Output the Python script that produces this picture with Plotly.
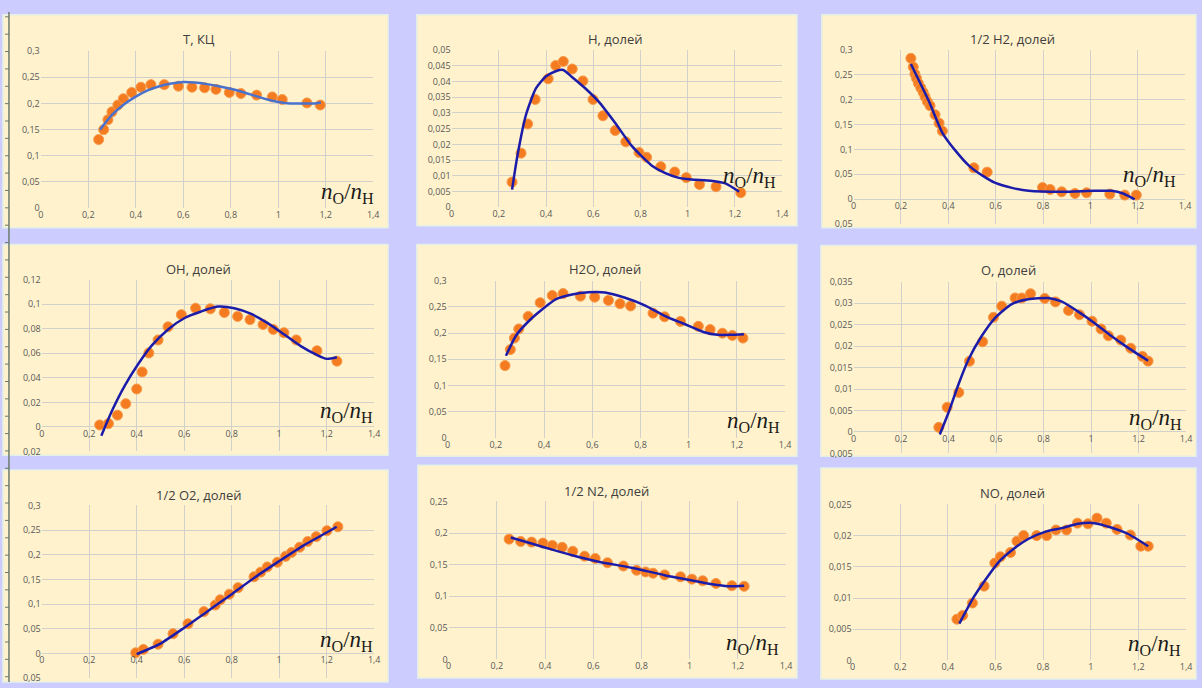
import numpy as np
import plotly.graph_objects as go

W, H = 1202, 688

# ---------------- data ----------------
X_TICKS = [0, 0.2, 0.4, 0.6, 0.8, 1.0, 1.2, 1.4]

T_x = [0.244, 0.265, 0.283, 0.30, 0.325, 0.348, 0.383, 0.422, 0.464, 0.52, 0.58, 0.637, 0.69, 0.738, 0.794, 0.843, 0.909, 0.975, 1.017, 1.121, 1.177]
T_y = [0.131, 0.150, 0.169, 0.184, 0.197, 0.209, 0.221, 0.231, 0.236, 0.236, 0.233, 0.231, 0.230, 0.227, 0.221, 0.219, 0.216, 0.2125, 0.2075, 0.201, 0.197]
T_fit_x = [0.25, 0.3, 0.35, 0.4, 0.45, 0.5, 0.55, 0.6, 0.65, 0.7, 0.75, 0.8, 0.85, 0.9, 0.95, 1.0, 1.05, 1.1, 1.15, 1.18]
T_fit_y = [0.150, 0.178, 0.198, 0.213, 0.225, 0.233, 0.238, 0.241, 0.240, 0.237, 0.233, 0.228, 0.222, 0.215, 0.208, 0.203, 0.200, 0.200, 0.200, 0.202]

H_x = [0.256, 0.294, 0.322, 0.354, 0.409, 0.441, 0.473, 0.511, 0.556, 0.599, 0.641, 0.693, 0.738, 0.794, 0.826, 0.886, 0.945, 0.994, 1.05, 1.12, 1.225]
H_y = [0.0080, 0.0172, 0.0265, 0.0343, 0.0409, 0.0451, 0.0464, 0.0440, 0.0402, 0.0343, 0.0291, 0.0244, 0.0208, 0.0174, 0.0159, 0.0129, 0.0112, 0.0094, 0.0072, 0.0065, 0.0046]
H_fit_x = [0.256, 0.28, 0.315, 0.357, 0.399, 0.441, 0.473, 0.511, 0.567, 0.623, 0.693, 0.763, 0.847, 0.903, 0.959, 1.015, 1.099, 1.162, 1.218]
H_fit_y = [0.0056, 0.0169, 0.0294, 0.0378, 0.0416, 0.0433, 0.0437, 0.0414, 0.0378, 0.0336, 0.0268, 0.0195, 0.0133, 0.0109, 0.0094, 0.0088, 0.0084, 0.0075, 0.0049]

H2_x = [0.242, 0.252, 0.259, 0.266, 0.274, 0.284, 0.294, 0.302, 0.312, 0.323, 0.344, 0.361, 0.375, 0.508, 0.564, 0.798, 0.830, 0.879, 0.935, 0.984, 1.082, 1.145, 1.194]
H2_y = [0.2835, 0.266, 0.252, 0.243, 0.233, 0.224, 0.215, 0.206, 0.196, 0.188, 0.170, 0.153, 0.137, 0.0628, 0.0542, 0.0231, 0.0192, 0.0145, 0.0112, 0.0126, 0.0099, 0.0079, 0.0079]
H2_fit_x = [0.242, 0.319, 0.375, 0.431, 0.487, 0.543, 0.599, 0.669, 0.739, 0.879, 1.019, 1.089, 1.138, 1.187]
H2_fit_y = [0.272, 0.196, 0.1335, 0.097, 0.0674, 0.0476, 0.0324, 0.0225, 0.0165, 0.0145, 0.0165, 0.0165, 0.0112, -0.0007]

OH_x = [0.244, 0.281, 0.319, 0.354, 0.40, 0.423, 0.451, 0.49, 0.532, 0.588, 0.648, 0.71, 0.769, 0.825, 0.877, 0.932, 0.975, 1.02, 1.072, 1.159, 1.243]
OH_y = [0.0016, 0.0027, 0.0096, 0.0189, 0.0309, 0.0448, 0.0603, 0.0709, 0.0816, 0.0915, 0.0968, 0.0963, 0.0933, 0.0901, 0.0875, 0.0835, 0.0795, 0.0768, 0.0709, 0.0621, 0.0536]
OH_fit_x = [0.251, 0.295, 0.351, 0.407, 0.462, 0.532, 0.602, 0.671, 0.741, 0.811, 0.88, 0.95, 1.02, 1.089, 1.159, 1.2, 1.243]
OH_fit_y = [-0.0072, 0.0128, 0.0341, 0.0515, 0.0661, 0.0795, 0.0888, 0.0941, 0.0981, 0.0968, 0.0923, 0.0848, 0.0755, 0.0661, 0.0587, 0.0555, 0.0568]

H2O_x = [0.238, 0.260, 0.277, 0.295, 0.334, 0.384, 0.434, 0.479, 0.551, 0.61, 0.667, 0.715, 0.759, 0.852, 0.90, 0.966, 1.04, 1.089, 1.14, 1.181, 1.225]
H2O_y = [0.1378, 0.1684, 0.1904, 0.2079, 0.2317, 0.258, 0.2718, 0.2755, 0.2705, 0.2686, 0.2624, 0.2561, 0.2517, 0.238, 0.2311, 0.2223, 0.2129, 0.2066, 0.1997, 0.1954, 0.1904]
H2O_fit_x = [0.242, 0.284, 0.338, 0.393, 0.448, 0.516, 0.585, 0.653, 0.736, 0.818, 0.90, 0.982, 1.064, 1.119, 1.174, 1.229]
H2O_fit_y = [0.1565, 0.1954, 0.2235, 0.2455, 0.2643, 0.2736, 0.2780, 0.2775, 0.2674, 0.2530, 0.2329, 0.2173, 0.2016, 0.1966, 0.1966, 0.1979]

O_x = [0.359, 0.394, 0.443, 0.488, 0.543, 0.589, 0.624, 0.68, 0.708, 0.745, 0.805, 0.85, 0.905, 0.951, 1.004, 1.042, 1.073, 1.125, 1.167, 1.216, 1.24]
O_y = [0.00107, 0.00574, 0.0092, 0.01647, 0.021, 0.0267, 0.0293, 0.0312, 0.0312, 0.0322, 0.0311, 0.0303, 0.0283, 0.0273, 0.0258, 0.024, 0.0224, 0.0214, 0.0195, 0.0176, 0.0165]
O_fit_x = [0.363, 0.401, 0.443, 0.485, 0.54, 0.596, 0.666, 0.735, 0.819, 0.875, 0.944, 1.014, 1.084, 1.153, 1.24]
O_fit_y = [-0.0006, 0.0047, 0.0113, 0.017, 0.0224, 0.0266, 0.0298, 0.0309, 0.0312, 0.0304, 0.0281, 0.0254, 0.0224, 0.0197, 0.0166]

O2_x = [0.396, 0.428, 0.49, 0.553, 0.616, 0.683, 0.731, 0.752, 0.79, 0.827, 0.894, 0.922, 0.95, 0.992, 1.027, 1.052, 1.086, 1.12, 1.156, 1.201, 1.247]
O2_y = [0.0013, 0.008, 0.0187, 0.040, 0.060, 0.0847, 0.098, 0.1087, 0.120, 0.1333, 0.1553, 0.1647, 0.1753, 0.1847, 0.1967, 0.2047, 0.2153, 0.2267, 0.2367, 0.2487, 0.2567]
O2_fit_x = [0.40, 0.5, 0.6, 0.7, 0.8, 0.9, 1.0, 1.1, 1.2, 1.242]
O2_fit_y = [-0.0013, 0.020, 0.052, 0.086, 0.120, 0.155, 0.187, 0.218, 0.245, 0.2567]

N2_x = [0.251, 0.299, 0.344, 0.391, 0.43, 0.471, 0.515, 0.564, 0.608, 0.659, 0.725, 0.78, 0.817, 0.848, 0.896, 0.962, 1.009, 1.054, 1.109, 1.175, 1.226]
N2_y = [0.1904, 0.1867, 0.1857, 0.1841, 0.1805, 0.1774, 0.1712, 0.1634, 0.1598, 0.153, 0.1478, 0.1411, 0.1385, 0.1364, 0.1338, 0.1307, 0.1271, 0.1245, 0.1203, 0.1167, 0.1157]
N2_fit_x = [0.258, 0.347, 0.43, 0.512, 0.622, 0.759, 0.896, 1.033, 1.116, 1.171, 1.226]
N2_fit_y = [0.193, 0.1831, 0.1738, 0.1649, 0.1546, 0.1452, 0.1333, 0.1234, 0.1177, 0.1157, 0.1167]

NO_x = [0.438, 0.462, 0.503, 0.552, 0.597, 0.621, 0.663, 0.69, 0.718, 0.773, 0.815, 0.854, 0.898, 0.944, 0.988, 1.026, 1.065, 1.11, 1.166, 1.21, 1.241]
NO_y = [0.0066, 0.0072, 0.0092, 0.0119, 0.0156, 0.0166, 0.0173, 0.0191, 0.0200, 0.0200, 0.0200, 0.0209, 0.0209, 0.0220, 0.0219, 0.0228, 0.0220, 0.0210, 0.0201, 0.0183, 0.0183]
NO_fit_x = [0.448, 0.503, 0.559, 0.614, 0.67, 0.739, 0.808, 0.877, 0.947, 1.016, 1.085, 1.155, 1.241]
NO_fit_y = [0.0059, 0.0098, 0.0130, 0.0158, 0.0177, 0.0195, 0.0206, 0.0212, 0.0219, 0.0220, 0.0213, 0.0203, 0.0183]

TITLES = ["T, КЦ", "H, долей", "1/2 H2, долей", "OH, долей", "H2O, долей", "O, долей",
          "1/2 O2, долей", "1/2 N2, долей", "NO, долей"]
SERIES = [(T_x, T_y, T_fit_x, T_fit_y), (H_x, H_y, H_fit_x, H_fit_y), (H2_x, H2_y, H2_fit_x, H2_fit_y),
          (OH_x, OH_y, OH_fit_x, OH_fit_y), (H2O_x, H2O_y, H2O_fit_x, H2O_fit_y), (O_x, O_y, O_fit_x, O_fit_y),
          (O2_x, O2_y, O2_fit_x, O2_fit_y), (N2_x, N2_y, N2_fit_x, N2_fit_y), (NO_x, NO_y, NO_fit_x, NO_fit_y)]
Y_RANGES = [(0, 0.3), (0, 0.05), (-0.05, 0.3), (-0.02, 0.12), (0, 0.3), (-0.005, 0.035),
            (-0.05, 0.3), (0, 0.25), (0, 0.025)]
Y_STEPS = [0.05, 0.005, 0.05, 0.02, 0.05, 0.005, 0.05, 0.05, 0.005]

# ---------------- layout (pixels) ----------------
PANELS = [(0, 8, 388, 225), (417, 8, 800, 223), (825, 8, 1202, 225),
          (0, 242, 388, 457), (417, 242, 800, 458), (824, 243, 1202, 458),
          (0, 472, 388, 688), (418, 467, 800, 684), (824, 470, 1202, 685)]
PLOTS = [(38, 45, 373, 205), (452, 44, 785, 204), (857, 44, 1191, 221),
         (39, 278, 374, 453), (448, 279, 788, 439), (857, 280, 1192, 455),
         (39, 508, 374, 684), (449, 504, 789, 665), (856, 507, 1192, 666)]
TITLE_POS = [(197, 33), (617, 33), (1017, 33), (197, 267), (607, 267), (1013, 268),
             (197, 497), (608, 493), (1017, 495)]
LABEL_POS = [(376, 190), (781, 173), (1184, 172), (375, 413), (785, 423), (1190, 420),
             (375, 646), (784, 649), (1189, 650)]
LINE_COLORS = ["#4a72cc"] + ["#1c1caa"] * 8

BG = "#ccccff"
CREAM = "#fff2cc"
GRID = "#d2d0cc"
TXT = "#595959"


def fmt(v):
    s = f"{abs(v):.4f}".rstrip("0").rstrip(".")
    return s.replace(".", ",")


def px(xp):
    return xp / W


def py(yp):
    return 1 - yp / H


fig = go.Figure()
layout = {}
shapes = []
annotations = []

for i in range(9):
    k = "" if i == 0 else str(i + 1)
    xs, ys, fx, fy = SERIES[i]
    fig.add_trace(go.Scatter(x=xs, y=ys, mode="markers", xaxis="x" + k, yaxis="y" + k,
                             marker=dict(symbol="circle", size=10, color="#f47b20",
                                         line=dict(width=1, color="#f79a4a")),
                             showlegend=False, hoverinfo="skip"))
    fig.add_trace(go.Scatter(x=fx, y=fy, mode="lines", xaxis="x" + k, yaxis="y" + k,
                             line=dict(color=LINE_COLORS[i], width=2.5, shape="spline", smoothing=0.6),
                             showlegend=False, hoverinfo="skip"))

    x0, y0, x1, y1 = PLOTS[i]
    ymin, ymax = Y_RANGES[i]
    step = Y_STEPS[i]
    yt = [float(v) for v in np.round(np.arange(ymin, ymax + step / 2, step), 6)]

    xax = dict(domain=[px(x0), px(x1)], range=[0, 1.4], tickvals=X_TICKS,
               ticktext=[fmt(v) for v in X_TICKS], showgrid=True, gridcolor=GRID, gridwidth=1,
               zeroline=False, showline=False, ticks="", tickfont=dict(size=9, color=TXT,
               family="Open Sans, Liberation Sans, sans-serif"), fixedrange=True)
    if ymin < 0:
        zero_px = y1 - (0 - ymin) / (ymax - ymin) * (y1 - y0)
        xax.update(anchor="free", position=py(zero_px))
    else:
        xax.update(anchor="y" + k)
    yax = dict(domain=[py(y1), py(y0)], range=[ymin, ymax], tickvals=yt,
               ticktext=[fmt(v) for v in yt], showgrid=True, gridcolor=GRID, gridwidth=1,
               zeroline=False, showline=False, ticks="", anchor="x" + k,
               tickfont=dict(size=9, color=TXT, family="Open Sans, Liberation Sans, sans-serif"),
               fixedrange=True)
    layout["xaxis" + k] = xax
    layout["yaxis" + k] = yax

    rx0, ry0, rx1, ry1 = PANELS[i]
    shapes.append(dict(type="rect", xref="paper", yref="paper", x0=px(rx0), x1=px(rx1),
                       y0=py(ry1), y1=py(ry0), fillcolor=CREAM,
                       line=dict(color="#e4efe6", width=1.5), layer="below"))
    tx, ty = TITLE_POS[i]
    annotations.append(dict(text=TITLES[i], xref="paper", yref="paper", x=px(tx), y=py(ty),
                            xanchor="center", yanchor="middle", showarrow=False,
                            font=dict(size=13, color="#404040",
                                      family="Open Sans, Liberation Sans, sans-serif")))
    lx, ly = LABEL_POS[i]
    annotations.append(dict(text="<i>n</i><sub>O</sub>/<i>n</i><sub>H</sub>", xref="paper",
                            yref="paper", x=px(lx), y=py(ly), xanchor="right", yanchor="middle",
                            showarrow=False,
                            font=dict(size=23, color="#1a1a1a", family="Liberation Serif, serif")))

# clipped axis of a neighbouring chart at the very left edge
shapes.append(dict(type="line", xref="paper", yref="paper", x0=px(6), x1=px(6), y0=0, y1=py(5),
                   line=dict(color="#6b7a6b", width=1.5)))
for t in np.arange(10, H, 17.7):
    shapes.append(dict(type="line", xref="paper", yref="paper", x0=px(2), x1=px(6),
                       y0=py(t), y1=py(t), line=dict(color="#6b7a6b", width=1)))

fig.update_layout(**layout)
fig.update_layout(width=W, height=H, margin=dict(l=0, r=0, t=0, b=0),
                  paper_bgcolor=BG, plot_bgcolor="rgba(0,0,0,0)",
                  shapes=shapes, annotations=annotations, showlegend=False)

fig.write_html("out.html", config={"displayModeBar": False})
